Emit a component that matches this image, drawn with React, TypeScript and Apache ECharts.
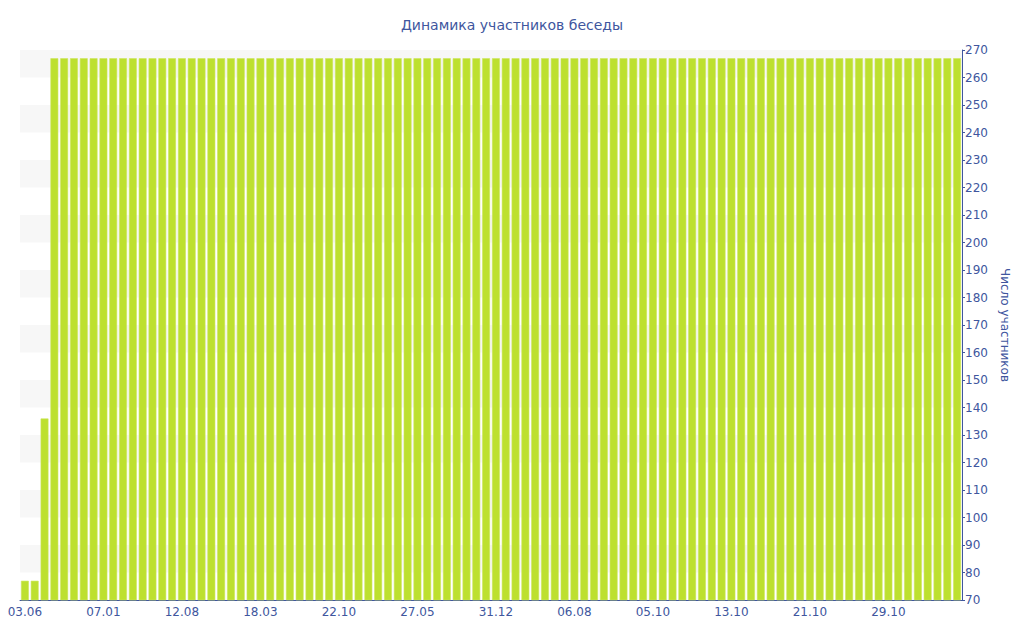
import React, { useEffect, useRef } from "react";
import * as echarts from "echarts";

const title = "Динамика участников беседы";
const yAxisName = "Число участников";

const dates = [
  "03.06", "30.06", "27.07", "23.08", "20.09", "17.10", "13.11", "10.12",
  "07.01", "03.02", "01.03", "28.03", "25.04", "22.05", "18.06", "15.07",
  "12.08", "08.09", "05.10", "01.11", "29.11", "26.12", "22.01", "18.02",
  "18.03", "14.04", "11.05", "07.06", "05.07", "01.08", "28.08", "24.09",
  "22.10", "18.11", "15.12", "11.01", "07.02", "06.03", "02.04", "29.04",
  "27.05", "23.06", "20.07", "16.08", "13.09", "10.10", "06.11", "03.12",
  "31.12", "27.01", "23.02", "22.03", "19.04", "16.05", "12.06", "09.07",
  "06.08", "13.08", "21.08", "28.08", "05.09", "12.09", "20.09", "27.09",
  "05.10", "06.10", "07.10", "08.10", "09.10", "10.10", "11.10", "12.10",
  "13.10", "14.10", "15.10", "16.10", "17.10", "18.10", "19.10", "20.10",
  "21.10", "22.10", "23.10", "24.10", "25.10", "26.10", "27.10", "28.10",
  "29.10", "30.10", "31.10", "01.11", "02.11", "03.11", "04.11", "05.11",
];

const members = [
  77, 77, 136, 267, 267, 267, 267, 267,
  267, 267, 267, 267, 267, 267, 267, 267,
  267, 267, 267, 267, 267, 267, 267, 267,
  267, 267, 267, 267, 267, 267, 267, 267,
  267, 267, 267, 267, 267, 267, 267, 267,
  267, 267, 267, 267, 267, 267, 267, 267,
  267, 267, 267, 267, 267, 267, 267, 267,
  267, 267, 267, 267, 267, 267, 267, 267,
  267, 267, 267, 267, 267, 267, 267, 267,
  267, 267, 267, 267, 267, 267, 267, 267,
  267, 267, 267, 267, 267, 267, 267, 267,
  267, 267, 267, 267, 267, 267, 267, 267,
];

const yMin = 70;
const yMax = 270;
const yStep = 10;

const TEXT = "#40569e";
const AXIS = "#40569e";
const FONT = "Verdana, 'DejaVu Sans', sans-serif";

export default function App() {
  const ref = useRef<HTMLDivElement>(null);
  useEffect(() => {
    if (!ref.current) return;
    const chart = echarts.init(ref.current, undefined, { renderer: "svg" });
    chart.setOption({
      animation: false,
      textStyle: { fontFamily: FONT },
      title: {
        text: title,
        left: "center",
        top: 13,
        textStyle: { color: TEXT, fontSize: 14, fontWeight: "normal", fontFamily: FONT },
      },
      grid: { left: 20, right: 62, top: 50, bottom: 40 },
      xAxis: {
        type: "category",
        data: dates,
        boundaryGap: true,
        axisLine: { lineStyle: { color: AXIS, width: 1 } },
        axisTick: { alignWithLabel: true, interval: 7, length: 4, lineStyle: { color: AXIS } },
        axisLabel: { interval: 7, color: TEXT, fontSize: 12, margin: 6, fontFamily: FONT },
        splitLine: { show: false },
      },
      yAxis: {
        type: "value",
        position: "right",
        min: yMin,
        max: yMax,
        interval: yStep,
        name: yAxisName,
        nameLocation: "middle",
        nameGap: 34,
        nameRotate: -90,
        nameTextStyle: { color: TEXT, fontSize: 12, fontFamily: FONT },
        axisLine: { show: true, lineStyle: { color: AXIS, width: 1 } },
        axisTick: { show: true, length: 3, lineStyle: { color: AXIS } },
        axisLabel: { color: TEXT, fontSize: 12, margin: 3, fontFamily: FONT },
        splitLine: { show: false },
        splitArea: { show: true, areaStyle: { color: ["rgba(255,255,255,0)", "#f7f7f7"] } },
      },
      series: [
        {
          type: "bar",
          data: members,
          barCategoryGap: "20%",
          itemStyle: { color: "#bde02f", borderColor: "#cce65c", borderWidth: 0.6 },
        },
      ],
    });
    return () => chart.dispose();
  }, []);
  return <div ref={ref} style={{ width: 1024, height: 640, position: "absolute", left: 0, top: 0 }} />;
}
